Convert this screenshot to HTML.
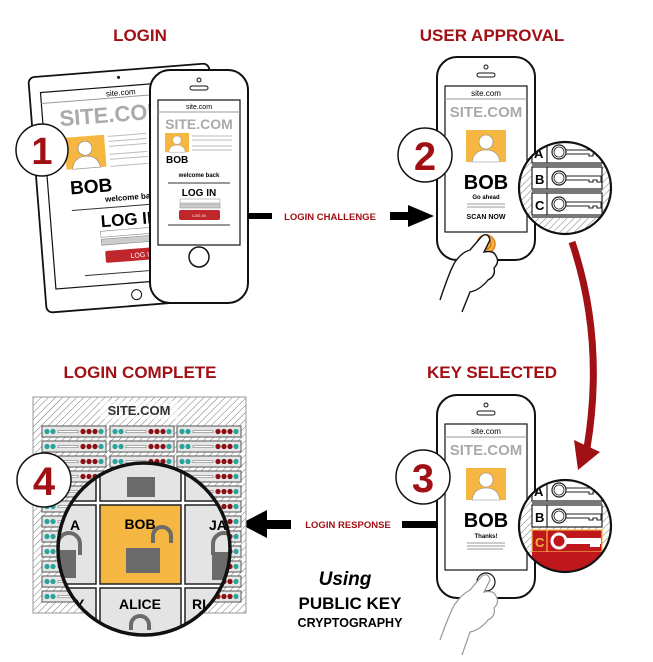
<!DOCTYPE html>
<html><head><meta charset="utf-8"><style>
html,body{margin:0;padding:0;background:#fff}
svg{display:block}
text{font-family:"Liberation Sans",sans-serif}
</style></head><body>
<svg width="653" height="662" viewBox="0 0 653 662" xmlns="http://www.w3.org/2000/svg">
<defs>
<pattern id="hatch" width="5" height="5" patternUnits="userSpaceOnUse" patternTransform="rotate(45)">
<rect width="5" height="5" fill="#fff"/><line x1="0" y1="0" x2="0" y2="5" stroke="#777" stroke-width="1"/>
</pattern>
<g id="srv">
<rect x="0" y="0" width="64" height="11" fill="#e6e6e6" stroke="#555" stroke-width="1"/>
<circle cx="5" cy="5.5" r="2.6" fill="#2aa39a"/><circle cx="11" cy="5.5" r="2.6" fill="#2aa39a"/>
<rect x="16" y="4.5" width="20" height="2.2" fill="#fff" stroke="#777" stroke-width=".6"/>
<circle cx="41" cy="5.5" r="2.6" fill="#8b0e12"/><circle cx="47" cy="5.5" r="2.6" fill="#8b0e12"/><circle cx="53" cy="5.5" r="2.6" fill="#8b0e12"/><circle cx="59" cy="5.5" r="2.6" fill="#2aa39a"/>
</g>
<g id="avatar">
<rect x="0" y="0" width="40" height="32" fill="#f6b642"/>
<circle cx="20" cy="12" r="7" fill="#fff" stroke="#888" stroke-width=".6"/>
<path d="M6 32 Q8 20 20 20 Q32 20 34 32 Z" fill="#fff" stroke="#888" stroke-width=".6"/>
</g>
<g id="phone">
<rect x="0" y="0" width="98" height="203" rx="20" fill="#fff" stroke="#111" stroke-width="2"/>
<circle cx="49" cy="10" r="2" fill="none" stroke="#111"/>
<rect x="40" y="16" width="18" height="4" rx="2" fill="none" stroke="#111"/>
<rect x="8" y="29" width="82" height="146" fill="#fff" stroke="#111" stroke-width="1.2"/>
<line x1="8" y1="42" x2="90" y2="42" stroke="#999"/>
<text x="49" y="39" font-size="8" text-anchor="middle">site.com</text>
<text x="49" y="60" font-size="15" font-weight="bold" fill="#aaa" text-anchor="middle">SITE.COM</text>
<use href="#avatar" x="29" y="73"/>
<text x="49" y="132" font-size="20" font-weight="bold" text-anchor="middle">BOB</text>
</g>
<g id="key">
<circle cx="10" cy="10" r="7" fill="none" stroke="#222" stroke-width="1.2"/>
<circle cx="10" cy="10" r="5" fill="none" stroke="#222" stroke-width=".8"/>
<path d="M17 8 H52 V14 H48 V12 H44 V14 H40 V12 H17" fill="none" stroke="#222" stroke-width="1.1"/>
</g>
</defs>

<g font-weight="bold" fill="#a11014" font-size="17" text-anchor="middle">
<text x="140" y="41">LOGIN</text>
<text x="492" y="41">USER APPROVAL</text>
<text x="140" y="378">LOGIN COMPLETE</text>
<text x="492" y="378">KEY SELECTED</text>
</g>

<g transform="rotate(-4.5 128 185)">
<rect x="37" y="70" width="181" height="236" rx="6" fill="#fff" stroke="#111" stroke-width="1.8"/>
<circle cx="127" cy="77" r="1.5" fill="#111"/>
<circle cx="128" cy="295" r="5" fill="none" stroke="#111"/>
<rect x="48" y="86" width="160" height="197" fill="#fff" stroke="#111" stroke-width="1.2"/>
<line x1="48" y1="97" x2="208" y2="97" stroke="#999"/>
<text x="128" y="95" font-size="8" text-anchor="middle">site.com</text>
<text x="65" y="121" font-size="22" font-weight="bold" fill="#aaa">SITE.COM</text>
<use href="#avatar" x="68" y="133"/>
<g stroke="#bbb" stroke-width="1"><line x1="112" y1="135" x2="150" y2="135"/><line x1="112" y1="140" x2="150" y2="140"/><line x1="112" y1="145" x2="150" y2="145"/><line x1="112" y1="153" x2="150" y2="153"/><line x1="112" y1="158" x2="150" y2="158"/><line x1="112" y1="165" x2="150" y2="165"/></g>
<text x="70" y="190" font-size="19" font-weight="bold">BOB</text>
<text x="104" y="200" font-size="8" font-weight="bold">welcome back</text>
<line x1="70" y1="206" x2="190" y2="206" stroke="#333"/>
<text x="98" y="225" font-size="17" font-weight="bold">LOG IN</text>
<rect x="97" y="229" width="60" height="6" fill="#fff" stroke="#888" stroke-width=".6"/>
<rect x="97" y="237" width="60" height="6" fill="#ccc" stroke="#888" stroke-width=".6"/>
<rect x="100" y="249" width="60" height="12" rx="2" fill="#c0272d"/>
<text x="125" y="258" font-size="7" fill="#fff">LOG IN</text>
<line x1="78" y1="272" x2="170" y2="272" stroke="#333"/>
</g>

<rect x="150" y="70" width="98" height="233" rx="20" fill="#fff" stroke="#111" stroke-width="2"/>
<circle cx="199" cy="80" r="2" fill="none" stroke="#111"/>
<rect x="190" y="86" width="18" height="4" rx="2" fill="none" stroke="#111"/>
<rect x="158" y="100" width="82" height="145" fill="#fff" stroke="#111" stroke-width="1.2"/>
<line x1="158" y1="112" x2="240" y2="112" stroke="#999"/>
<text x="199" y="109" font-size="7" text-anchor="middle">site.com</text>
<text x="199" y="129" font-size="14" font-weight="bold" fill="#aaa" text-anchor="middle">SITE.COM</text>
<g transform="translate(165 133) scale(.6)"><use href="#avatar"/></g>
<g stroke="#bbb"><line x1="192" y1="136" x2="232" y2="136"/><line x1="192" y1="140" x2="232" y2="140"/><line x1="192" y1="146" x2="232" y2="146"/><line x1="192" y1="150" x2="232" y2="150"/></g>
<text x="166" y="163" font-size="10" font-weight="bold">BOB</text>
<text x="199" y="177" font-size="6" font-weight="bold" text-anchor="middle">welcome back</text>
<line x1="168" y1="183" x2="230" y2="183" stroke="#333"/>
<text x="199" y="196" font-size="10" font-weight="bold" text-anchor="middle">LOG IN</text>
<rect x="180" y="199" width="40" height="4" fill="#fff" stroke="#888" stroke-width=".5"/>
<rect x="180" y="204" width="40" height="4" fill="#ccc" stroke="#888" stroke-width=".5"/>
<rect x="179" y="210" width="41" height="10" rx="2" fill="#c0272d"/>
<text x="199" y="217" font-size="4" fill="#fff" text-anchor="middle">LOG IN</text>
<line x1="168" y1="225" x2="230" y2="225" stroke="#333"/>
<circle cx="199" cy="257" r="10" fill="none" stroke="#111" stroke-width="1.5"/>

<circle cx="42" cy="150" r="26" fill="#fff" stroke="#111" stroke-width="1.5"/>
<text x="42" y="164" font-size="38" font-weight="bold" fill="#a11014" text-anchor="middle">1</text>

<rect x="248" y="213" width="24" height="6" fill="#000"/>
<text x="330" y="220" font-size="9.5" font-weight="bold" fill="#a11014" text-anchor="middle">LOGIN CHALLENGE</text>
<rect x="390" y="212" width="20" height="8" fill="#000"/>
<path d="M408 205 L434 216 L408 227 Z" fill="#000"/>

<g transform="translate(437 57)"><use href="#phone"/>
<text x="49" y="142" font-size="6" font-weight="bold" text-anchor="middle">Go ahead</text>
<g stroke="#777" stroke-width=".8"><line x1="30" y1="147" x2="68" y2="147"/><line x1="30" y1="150" x2="68" y2="150"/></g>
<text x="49" y="162" font-size="7" font-weight="bold" text-anchor="middle">SCAN NOW</text>
</g>
<circle cx="486" cy="244" r="9" fill="#f6b642" stroke="#e07e1e" stroke-width="1.5"/>
<circle cx="486" cy="244" r="5" fill="#f6b642" stroke="#c05a10" stroke-width="1"/>
<path d="M440 300 Q450 270 455 262 Q462 252 470 250 L482 236 Q488 232 490 240 L484 252 Q494 250 496 256 Q500 262 494 268 Q496 276 488 280 Q480 290 470 292 L462 312" fill="#fff" stroke="#111" stroke-width="1.4"/>
<circle cx="425" cy="155" r="27" fill="#fff" stroke="#111" stroke-width="1.5"/>
<text x="425" y="170" font-size="40" font-weight="bold" fill="#a11014" text-anchor="middle">2</text>

<clipPath id="m2"><circle cx="565" cy="188" r="46"/></clipPath>
<g clip-path="url(#m2)">
<rect x="515" y="140" width="100" height="100" fill="url(#hatch)"/>
<g fill="#fff" stroke="#222" stroke-width="1.2">
<rect x="532" y="141" width="70" height="22"/><rect x="532" y="167" width="70" height="22"/><rect x="532" y="193" width="70" height="22"/>
<line x1="547" y1="141" x2="547" y2="215"/></g>
<rect x="532" y="163" width="70" height="4" fill="#777"/><rect x="532" y="189" width="70" height="4" fill="#777"/><rect x="532" y="215" width="70" height="3" fill="#777"/>
<g font-size="13" font-weight="bold"><text x="534" y="158">A</text><text x="535" y="184">B</text><text x="535" y="210">C</text></g>
<use href="#key" x="549" y="142"/><use href="#key" x="549" y="168"/><use href="#key" x="549" y="194"/>
</g>
<circle cx="565" cy="188" r="46" fill="none" stroke="#111" stroke-width="2.2"/>

<path d="M572 242 Q605 340 587 448" fill="none" stroke="#a11014" stroke-width="7"/>
<path d="M574 440 L600 452 L578 470 Z" fill="#a11014"/>

<g transform="translate(437 395)"><use href="#phone"/>
<text x="49" y="143" font-size="6" font-weight="bold" text-anchor="middle">Thanks!</text>
<g stroke="#777" stroke-width=".8"><line x1="30" y1="148" x2="68" y2="148"/><line x1="30" y1="151" x2="68" y2="151"/><line x1="30" y1="154" x2="66" y2="154"/></g>
</g>
<circle cx="486" cy="582" r="9" fill="#fff" stroke="#111" stroke-width="1.2"/>
<path d="M440 640 Q450 612 455 604 Q462 594 470 590 L482 576 Q488 572 490 580 L484 592 Q494 590 496 596 Q500 602 494 608 Q496 616 488 620 Q480 630 470 632 L462 655" fill="#fff" stroke="#999" stroke-width="1.2"/>
<circle cx="423" cy="477" r="27" fill="#fff" stroke="#111" stroke-width="1.5"/>
<text x="423" y="492" font-size="40" font-weight="bold" fill="#a11014" text-anchor="middle">3</text>

<clipPath id="m3"><circle cx="565" cy="526" r="46"/></clipPath>
<g clip-path="url(#m3)">
<rect x="515" y="478" width="100" height="100" fill="url(#hatch)"/>
<g fill="#fff" stroke="#222" stroke-width="1.2">
<rect x="532" y="479" width="70" height="22"/><rect x="532" y="505" width="70" height="22"/></g>
<rect x="532" y="530" width="70" height="22" fill="#c0171d" stroke="#f6b642" stroke-width="1.2"/>
<line x1="547" y1="479" x2="547" y2="527" stroke="#222" stroke-width="1.2"/>
<line x1="547" y1="530" x2="547" y2="552" stroke="#f6b642" stroke-width="1.2"/>
<rect x="532" y="501" width="70" height="4" fill="#777"/>
<rect x="532" y="552" width="70" height="20" fill="#c0171d"/>
<g font-size="13" font-weight="bold"><text x="534" y="496">A</text><text x="535" y="522">B</text><text x="535" y="547" fill="#f6b642">C</text></g>
<use href="#key" x="549" y="480"/><use href="#key" x="549" y="506"/>
<circle cx="559" cy="541" r="7" fill="none" stroke="#fff" stroke-width="3"/>
<rect x="566" y="538" width="35" height="6" fill="#fff"/><rect x="590" y="544" width="10" height="3" fill="#fff"/>
</g>
<circle cx="565" cy="526" r="46" fill="none" stroke="#111" stroke-width="2.2"/>

<rect x="402" y="521" width="35" height="7" fill="#000"/>
<text x="348" y="528" font-size="9.5" font-weight="bold" fill="#a11014" text-anchor="middle">LOGIN RESPONSE</text>
<rect x="265" y="520" width="26" height="9" fill="#000"/>
<path d="M267 510 L240 524 L267 538 Z" fill="#000"/>

<rect x="33" y="397" width="213" height="216" fill="url(#hatch)" stroke="#999"/>
<rect x="100" y="401" width="78" height="18" fill="#fff" opacity=".6"/>
<text x="139" y="415" font-size="13" font-weight="bold" fill="#333" text-anchor="middle">SITE.COM</text>
<g>
<use href="#srv" x="42" y="426"/><use href="#srv" x="110" y="426"/><use href="#srv" x="177" y="426"/>
<use href="#srv" x="42" y="441"/><use href="#srv" x="110" y="441"/><use href="#srv" x="177" y="441"/>
<use href="#srv" x="42" y="456"/><use href="#srv" x="110" y="456"/><use href="#srv" x="177" y="456"/>
<use href="#srv" x="42" y="471"/><use href="#srv" x="110" y="471"/><use href="#srv" x="177" y="471"/>
<use href="#srv" x="42" y="486"/><use href="#srv" x="110" y="486"/><use href="#srv" x="177" y="486"/>
<use href="#srv" x="42" y="501"/><use href="#srv" x="110" y="501"/><use href="#srv" x="177" y="501"/>
<use href="#srv" x="42" y="516"/><use href="#srv" x="110" y="516"/><use href="#srv" x="177" y="516"/>
<use href="#srv" x="42" y="531"/><use href="#srv" x="110" y="531"/><use href="#srv" x="177" y="531"/>
<use href="#srv" x="42" y="546"/><use href="#srv" x="110" y="546"/><use href="#srv" x="177" y="546"/>
<use href="#srv" x="42" y="561"/><use href="#srv" x="110" y="561"/><use href="#srv" x="177" y="561"/>
<use href="#srv" x="42" y="576"/><use href="#srv" x="110" y="576"/><use href="#srv" x="177" y="576"/>
<use href="#srv" x="42" y="591"/><use href="#srv" x="110" y="591"/><use href="#srv" x="177" y="591"/>
</g>

<clipPath id="m4"><circle cx="144" cy="549" r="86"/></clipPath>
<g clip-path="url(#m4)">
<rect x="55" y="460" width="180" height="180" fill="#fff"/>
<g fill="#e4e4e4" stroke="#222" stroke-width="1.5">
<rect x="20" y="420" width="76" height="81"/><rect x="100" y="420" width="81" height="81"/><rect x="185" y="420" width="76" height="81"/>
<rect x="20" y="505" width="76" height="79"/><rect x="185" y="505" width="76" height="79"/>
<rect x="20" y="588" width="76" height="60"/><rect x="100" y="588" width="81" height="60"/><rect x="185" y="588" width="76" height="60"/>
</g>
<rect x="100" y="505" width="81" height="79" fill="#f6b642" stroke="#222" stroke-width="1.5"/>
<rect x="127" y="477" width="28" height="20" fill="#6b6b6b"/>
<text x="140" y="529" font-size="14" font-weight="bold" text-anchor="middle">BOB</text>
<path d="M153 543 V536 A9 9 0 0 1 171 536 V543" fill="none" stroke="#6b6b6b" stroke-width="4"/>
<rect x="126" y="548" width="34" height="25" fill="#6b6b6b"/>
<text x="70" y="530" font-size="14" font-weight="bold">A</text>
<text x="209" y="530" font-size="14" font-weight="bold">JA</text>
<path d="M58 550 V544 A11 11 0 0 1 80 544 V555" fill="none" stroke="#6b6b6b" stroke-width="4"/>
<rect x="58" y="550" width="18" height="28" fill="#6b6b6b"/>
<path d="M213 555 V544 A11 11 0 0 1 235 544" fill="none" stroke="#6b6b6b" stroke-width="4"/>
<rect x="212" y="552" width="24" height="28" fill="#6b6b6b"/>
<text x="140" y="609" font-size="14" font-weight="bold" text-anchor="middle">ALICE</text>
<path d="M131 630 V625 A9 9 0 0 1 149 625 V630" fill="none" stroke="#6b6b6b" stroke-width="4"/>
<text x="75" y="609" font-size="14" font-weight="bold">Y</text>
<text x="192" y="609" font-size="14" font-weight="bold">RI</text>
</g>
<circle cx="144" cy="549" r="86" fill="none" stroke="#111" stroke-width="3.5"/>
<circle cx="44" cy="480" r="27" fill="#fff" stroke="#111" stroke-width="1.5"/>
<text x="44" y="495" font-size="40" font-weight="bold" fill="#a11014" text-anchor="middle">4</text>

<text x="345" y="585" font-family="'Liberation Serif',serif" font-style="italic" font-weight="bold" font-size="19" text-anchor="middle">Using</text>
<text x="350" y="609" font-size="17" font-weight="bold" text-anchor="middle">PUBLIC KEY</text>
<text x="350" y="627" font-size="12.5" font-weight="bold" text-anchor="middle">CRYPTOGRAPHY</text>
</svg>
</body></html>
